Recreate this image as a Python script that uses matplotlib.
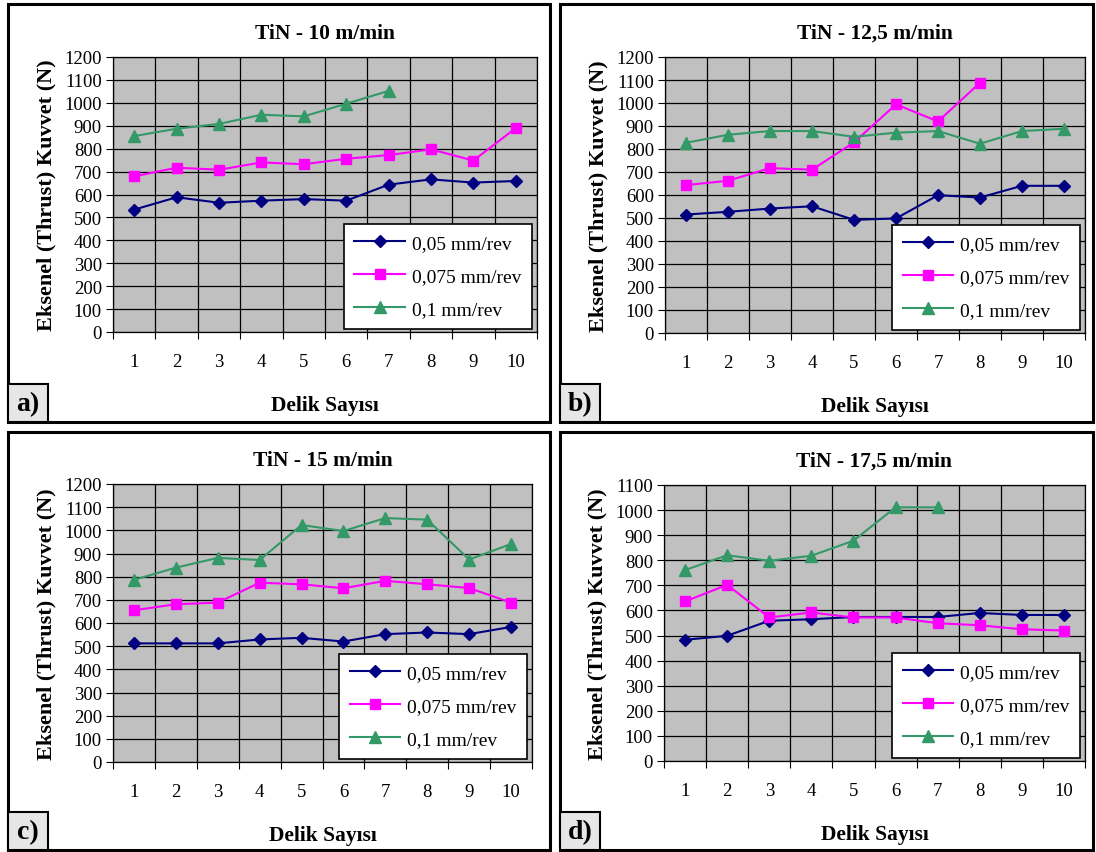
import matplotlib
matplotlib.use("Agg")
import matplotlib.pyplot as plt
from matplotlib.patches import Rectangle

plt.rcParams['font.family'] = ['Liberation Serif', 'DejaVu Serif']

holes = [1, 2, 3, 4, 5, 6, 7, 8, 9, 10]
labels = ["0,05 mm/rev", "0,075 mm/rev", "0,1 mm/rev"]

# panel a: TiN - 10 m/min
a_005 = [534, 588, 564, 573, 580, 573, 643, 666, 652, 659]
a_0075 = [679, 717, 708, 740, 732, 756, 772, 797, 748, 890]
a_01 = [855, 887, 908, 948, 941, 996, 1052]

# panel b: TiN - 12,5 m/min
b_005 = [515, 527, 541, 551, 492, 498, 599, 589, 640, 640]
b_0075 = [643, 662, 717, 710, 829, 994, 920, 1088]
b_01 = [827, 862, 878, 878, 853, 871, 878, 823, 878, 888]

# panel c: TiN - 15 m/min
c_005 = [512, 512, 512, 529, 536, 520, 552, 559, 552, 583]
c_0075 = [655, 681, 688, 774, 767, 750, 782, 767, 751, 688]
c_01 = [786, 839, 881, 872, 1023, 997, 1053, 1046, 874, 941]

# panel d: TiN - 17,5 m/min
d_005 = [483, 499, 559, 565, 574, 574, 574, 590, 582, 582]
d_0075 = [636, 702, 572, 592, 572, 572, 549, 541, 525, 520]
d_01 = [761, 820, 798, 818, 878, 1011, 1011]

panels = [
    dict(title="TiN - 10 m/min", tag="a)", series=[a_005, a_0075, a_01], ymax=1200,
         box=(8, 5, 550, 423), ax=(113, 58, 537, 333)),
    dict(title="TiN - 12,5 m/min", tag="b)", series=[b_005, b_0075, b_01], ymax=1200,
         box=(560, 5, 1093, 423), ax=(665, 58, 1085, 334)),
    dict(title="TiN - 15 m/min", tag="c)", series=[c_005, c_0075, c_01], ymax=1200,
         box=(8, 433, 550, 851), ax=(113, 485, 532, 763)),
    dict(title="TiN - 17,5 m/min", tag="d)", series=[d_005, d_0075, d_01], ymax=1100,
         box=(560, 433, 1093, 851), ax=(664, 486, 1085, 762)),
]

colors = ["#000080", "#FF00FF", "#339966"]
markers = ["D", "s", "^"]
msizes = [6.5, 7.5, 8.5]

W, H = 1096, 853
fig = plt.figure(figsize=(W / 100, H / 100), dpi=100)

def fx(x):
    return x / W

def fy(y):
    return 1 - y / H

for p in panels:
    bx0, by0, bx1, by1 = p["box"]
    fig.patches.append(Rectangle((fx(bx0), fy(by1)), fx(bx1 - bx0), (by1 - by0) / H,
                                 transform=fig.transFigure, fill=False,
                                 edgecolor="black", linewidth=2.2, zorder=0))
    # panel tag box
    fig.patches.append(Rectangle((fx(bx0), fy(by1)), fx(40), 38 / H,
                                 transform=fig.transFigure, facecolor="#e6e6e6",
                                 edgecolor="black", linewidth=1.5, zorder=1))
    fig.text(fx(bx0 + 20), fy(by1 - 18), p["tag"], ha="center", va="center",
             fontsize=20, fontweight="bold", zorder=2)

    x0, y0, x1, y1 = p["ax"]
    ax = fig.add_axes([fx(x0), fy(y1), fx(x1 - x0), (y1 - y0) / H])
    ax.set_facecolor("#C0C0C0")
    for s, c, m, ms, lab in zip(p["series"], colors, markers, msizes, labels):
        ax.plot(holes[:len(s)], s, color=c, marker=m, markersize=ms,
                linewidth=1.5, label=lab, markeredgecolor=c)
    ax.set_xlim(0.5, 10.5)
    ax.set_ylim(0, p["ymax"])
    ax.set_yticks(range(0, p["ymax"] + 1, 100))
    ax.set_xticks([i + 0.5 for i in range(0, 11)])
    ax.set_xticklabels([])
    ax.set_xticks(holes, minor=True)
    ax.set_xticklabels([str(h) for h in holes], minor=True)
    ax.tick_params(axis="x", which="minor", length=0, pad=15, labelsize=13.5)
    ax.tick_params(axis="x", which="major", length=5, direction="out")
    ax.tick_params(axis="y", length=5, direction="out", labelsize=13.5, pad=3)
    ax.grid(True, which="major", color="black", linewidth=0.9)
    ax.set_axisbelow(True)
    for sp in ax.spines.values():
        sp.set_color("black")
        sp.set_linewidth(0.9)
    ax.set_title(p["title"], fontsize=15.5, fontweight="bold", pad=14)
    ax.set_xlabel("Delik Sayısı", fontsize=15.5, fontweight="bold", labelpad=18)
    ax.set_ylabel("Eksenel (Thrust) Kuvvet (N)", fontsize=16, fontweight="bold", labelpad=6)
    leg = ax.legend(loc="lower right", bbox_to_anchor=(0.988, 0.011), fontsize=14,
                    frameon=True, fancybox=False, edgecolor="black", framealpha=1,
                    handlelength=2.6, handletextpad=0.35, labelspacing=0.8,
                    borderpad=0.55, borderaxespad=0)
    leg.get_frame().set_linewidth(1.2)

fig.savefig("out.png", dpi=100)
